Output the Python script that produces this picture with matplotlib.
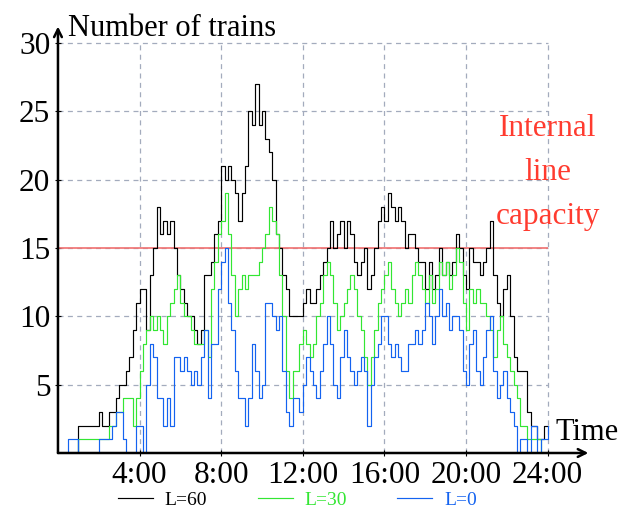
import numpy as np
import matplotlib
matplotlib.use('Agg')
import matplotlib.pyplot as plt

plt.rcParams['font.family'] = ['Liberation Serif', 'DejaVu Serif']

# number of trains on the line, one value every 10 minutes from 0:00
black = [
    0, 0, 0, 0, 0, 0,
    2, 2, 2, 2, 2, 2,
    3, 2, 2, 3, 3, 4,
    5, 5, 6, 7, 9, 11,
    12, 12, 9, 13, 15, 18,
    16, 17, 16, 17, 15, 13,
    12, 11, 10, 10, 9, 8,
    9, 13, 13, 14, 16, 17,
    21, 20, 21, 20, 19, 17,
    19, 21, 25, 24, 27, 24,
    25, 23, 22, 20, 16, 15,
    13, 12, 10, 10, 10, 10,
    11, 12, 11, 11, 12, 13,
    14, 15, 17, 15, 16, 17,
    15, 17, 16, 14, 13, 14,
    15, 12, 13, 15, 17, 18,
    17, 19, 18, 17, 18, 17,
    15, 16, 16, 15, 14, 14,
    12, 14, 12, 13, 15, 13,
    14, 13, 14, 16, 15, 13,
    12, 15, 14, 14, 13, 14,
    15, 17, 13, 11, 10, 12,
    13, 10, 7, 6, 6, 6,
    3, 2, 2, 1, 1, 2,
    2]
green = [
    0, 0, 0, 0, 0, 0,
    1, 1, 1, 1, 1, 1,
    1, 1, 1, 2, 2, 3,
    3, 4, 4, 4, 2, 4,
    6, 8, 9, 10, 9, 10,
    9, 8, 10, 11, 12, 13,
    11, 10, 10, 9, 8, 8,
    8, 9, 7, 12, 14, 16,
    17, 19, 16, 13, 10, 12,
    13, 12, 13, 13, 13, 14,
    15, 16, 18, 17, 16, 13,
    10, 6, 4, 6, 6, 8,
    9, 8, 7, 8, 10, 11,
    13, 14, 13, 11, 9, 10,
    11, 12, 13, 12, 10, 9,
    7, 5, 7, 9, 11, 12,
    13, 14, 12, 11, 10, 11,
    12, 11, 13, 14, 13, 12,
    11, 13, 11, 12, 14, 13,
    14, 12, 13, 15, 14, 11,
    9, 12, 11, 12, 11, 11,
    10, 9, 7, 9, 10, 8,
    7, 6, 5, 4, 2, 2,
    1, 1, 1, 1, 0, 0,
    0]
blue = [
    0, 0, 0, 1, 1, 1,
    0, 0, 0, 0, 0, 0,
    1, 1, 1, 1, 2, 3,
    3, 1, 0, 0, 0, 2,
    2, 0, 5, 8, 7, 4,
    4, 2, 4, 2, 7, 7,
    6, 7, 6, 5, 6, 5,
    7, 9, 4, 8, 8, 12,
    14, 15, 11, 9, 6, 4,
    4, 2, 4, 8, 6, 4,
    5, 11, 11, 10, 9, 10,
    6, 3, 2, 4, 4, 3,
    5, 7, 6, 5, 4, 6,
    8, 10, 8, 5, 4, 7,
    9, 7, 6, 5, 6, 7,
    6, 2, 5, 7, 8, 10,
    10, 8, 7, 8, 7, 6,
    6, 8, 8, 9, 8, 9,
    11, 10, 8, 10, 12, 10,
    11, 9, 10, 10, 9, 6,
    5, 8, 9, 6, 5, 7,
    9, 10, 6, 4, 5, 6,
    4, 3, 2, 0, 1, 1,
    0, 2, 2, 0, 1, 1,
    2]
labels = ['L=60', 'L=30', 'L=0']
colors = ['black', '#33e633', '#1463f0']
capacity = 15
xticks = [4, 8, 12, 16, 20, 24]
xticklabels = ['4:00', '8:00', '12:00', '16:00', '20:00', '24:00']
yticks = [5, 10, 15, 20, 25, 30]

t = np.arange(len(black)) / 6.0

fig = plt.figure(figsize=(6.22, 5.11), dpi=100)
ax = fig.add_axes([0.0932, 0.1135, 0.8527, 0.8346])
ax.set_xlim(0, 26)
ax.set_ylim(0, 31.2)

gc = '#a3abbd'
ax.vlines(xticks, 0, 30, colors=gc, linestyles=(0, (4, 3.5)), lw=0.9, zorder=1)
ax.hlines(yticks, 0, 24, colors=gc, linestyles=(0, (4, 3.5)), lw=0.9, zorder=1)
ax.hlines(capacity, 0, 24, colors='#f07070', lw=1.2, zorder=2)

lines = []
for ys, c, lab in zip([black, green, blue], colors, labels):
    ln, = ax.step(t, ys, where='post', color=c, lw=0.85, label=lab, zorder=3)
    lines.append(ln)

ax.text(24, 20.5, 'Internal\nline\ncapacity', color='#ff3b2f', fontsize=22.5,
        ha='center', va='center', linespacing=1.68)

for s in ['top', 'right', 'left', 'bottom']:
    ax.spines[s].set_visible(False)
arrow = dict(arrowstyle='->', lw=1.8, color='black', mutation_scale=14,
             shrinkA=0, shrinkB=0)
ax.annotate('', xy=(1, 0), xytext=(0, 0), xycoords='axes fraction',
            arrowprops=arrow, zorder=5)
ax.annotate('', xy=(0, 1), xytext=(0, 0), xycoords='axes fraction',
            arrowprops=arrow, zorder=5)

ax.set_xticks(xticks)
ax.set_xticklabels(xticklabels)
ax.set_yticks(yticks)
ax.tick_params(axis='both', labelsize=22.5, direction='inout', length=5, width=0.8)
ax.tick_params(axis='x', pad=3)
ax.tick_params(axis='y', pad=3)

fig.text(68 / 622, 1 - 36 / 511, 'Number of trains', fontsize=22, ha='left', va='baseline')
fig.text(556 / 622, 1 - 440 / 511, 'Time', fontsize=22, ha='left', va='baseline')

fig.legend(handles=lines, loc='center', bbox_to_anchor=(0.478, 0.022), ncol=3,
           frameon=False, labelcolor='linecolor', fontsize=14, handlelength=1.8,
           columnspacing=2.6, handletextpad=0.6)

fig.savefig('out.png', dpi=100)
